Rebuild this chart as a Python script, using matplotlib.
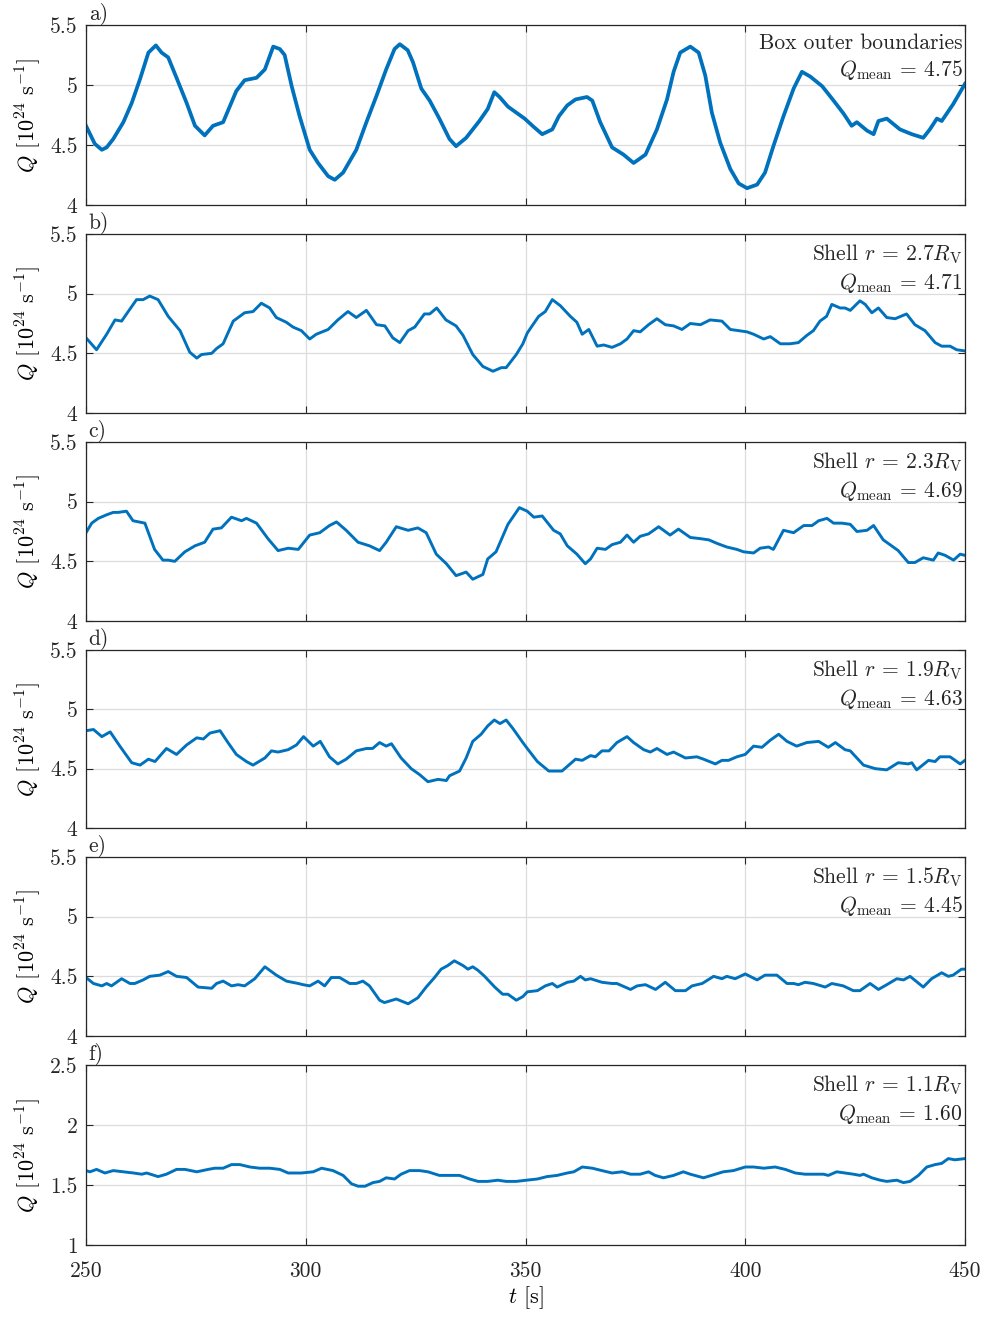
import matplotlib
matplotlib.use("Agg")
import matplotlib.pyplot as plt

plt.rcParams['font.family'] = 'serif'
plt.rcParams['font.serif'] = ['cmr10', 'DejaVu Serif']
plt.rcParams['mathtext.fontset'] = 'cm'
plt.rcParams['axes.formatter.use_mathtext'] = True

# ---------------- data ----------------
a_t = [250.0, 252.0, 253.6, 254.7, 256.2, 258.5, 260.4, 262.3, 264.2, 265.9, 267.2, 268.7, 270.6, 272.9, 274.8, 277.0, 278.9, 281.2, 284.2, 286.1, 288.8, 290.7, 292.6, 294.1, 295.2, 296.8, 298.6, 300.9, 302.8, 305.1, 306.6, 308.5, 311.5, 313.8, 316.1, 318.3, 320.2, 321.4, 323.2, 324.4, 326.3, 328.2, 330.4, 332.7, 334.2, 336.5, 339.5, 341.4, 342.9, 344.1, 346.0, 347.9, 349.8, 351.9, 353.8, 356.1, 357.6, 359.5, 361.4, 364.0, 365.2, 367.0, 369.7, 372.3, 374.6, 377.3, 379.9, 382.2, 383.7, 385.2, 387.5, 389.4, 390.9, 392.4, 394.3, 396.6, 398.5, 400.4, 402.7, 404.5, 406.4, 408.7, 411.0, 412.9, 414.8, 417.5, 420.1, 422.4, 424.2, 425.4, 427.7, 429.2, 430.3, 432.2, 435.2, 437.9, 440.5, 442.0, 443.6, 444.7, 447.3, 450.0]
a_q = [4.66, 4.51, 4.46, 4.48, 4.55, 4.69, 4.85, 5.05, 5.27, 5.33, 5.27, 5.23, 5.06, 4.85, 4.66, 4.58, 4.66, 4.69, 4.95, 5.04, 5.06, 5.13, 5.32, 5.30, 5.25, 4.99, 4.74, 4.46, 4.35, 4.24, 4.21, 4.27, 4.46, 4.69, 4.91, 5.13, 5.30, 5.34, 5.29, 5.19, 4.97, 4.87, 4.72, 4.55, 4.49, 4.56, 4.70, 4.80, 4.94, 4.90, 4.82, 4.77, 4.72, 4.65, 4.59, 4.63, 4.74, 4.83, 4.88, 4.90, 4.87, 4.69, 4.48, 4.42, 4.35, 4.42, 4.63, 4.88, 5.11, 5.27, 5.32, 5.27, 5.08, 4.77, 4.52, 4.30, 4.18, 4.14, 4.17, 4.27, 4.49, 4.74, 4.97, 5.11, 5.07, 4.99, 4.87, 4.76, 4.66, 4.69, 4.62, 4.59, 4.70, 4.72, 4.63, 4.59, 4.56, 4.63, 4.72, 4.70, 4.84, 5.01]

b_t = [250.0, 252.4, 254.7, 256.6, 258.1, 259.6, 261.5, 263.0, 264.5, 266.4, 268.7, 271.4, 273.6, 275.2, 276.3, 278.6, 279.7, 281.2, 283.5, 286.1, 288.0, 289.9, 291.8, 293.3, 295.6, 297.1, 299.0, 300.9, 302.4, 305.1, 307.3, 309.6, 311.5, 313.8, 316.1, 318.0, 319.8, 321.4, 323.3, 324.8, 327.0, 328.2, 329.8, 331.9, 334.2, 335.8, 338.0, 340.3, 342.6, 344.5, 345.6, 347.9, 349.4, 350.4, 351.5, 353.0, 354.5, 356.1, 357.9, 360.2, 361.7, 362.9, 364.4, 366.3, 367.8, 369.7, 371.6, 373.1, 374.6, 376.1, 378.0, 379.9, 381.8, 383.7, 385.6, 387.5, 389.8, 392.0, 394.7, 396.6, 398.5, 400.4, 401.9, 404.2, 405.7, 408.0, 410.2, 412.1, 414.0, 415.5, 417.0, 418.5, 419.7, 421.6, 422.7, 423.9, 426.1, 427.3, 428.8, 430.3, 432.2, 434.1, 436.7, 438.6, 440.9, 443.2, 444.7, 446.6, 448.1, 450.0]
b_q = [4.63, 4.53, 4.66, 4.78, 4.77, 4.85, 4.95, 4.95, 4.98, 4.95, 4.81, 4.69, 4.51, 4.46, 4.49, 4.50, 4.54, 4.58, 4.77, 4.84, 4.85, 4.92, 4.88, 4.80, 4.76, 4.72, 4.69, 4.62, 4.66, 4.70, 4.78, 4.85, 4.80, 4.86, 4.74, 4.73, 4.63, 4.59, 4.69, 4.72, 4.83, 4.83, 4.88, 4.78, 4.73, 4.65, 4.49, 4.39, 4.35, 4.38, 4.38, 4.49, 4.58, 4.67, 4.73, 4.81, 4.85, 4.95, 4.90, 4.81, 4.76, 4.66, 4.70, 4.56, 4.57, 4.55, 4.58, 4.62, 4.69, 4.68, 4.74, 4.79, 4.74, 4.73, 4.70, 4.75, 4.74, 4.78, 4.77, 4.70, 4.69, 4.68, 4.66, 4.62, 4.64, 4.58, 4.58, 4.59, 4.65, 4.69, 4.77, 4.81, 4.91, 4.88, 4.88, 4.86, 4.94, 4.91, 4.84, 4.88, 4.80, 4.79, 4.83, 4.74, 4.69, 4.59, 4.56, 4.56, 4.53, 4.52]

c_t = [250.0, 251.3, 252.8, 254.7, 256.2, 257.3, 259.2, 260.7, 263.4, 265.6, 267.5, 268.7, 270.2, 272.5, 274.8, 277.0, 278.9, 280.8, 283.1, 285.4, 286.5, 288.8, 291.4, 293.7, 296.0, 298.3, 300.9, 303.2, 305.4, 307.0, 309.2, 311.9, 314.5, 316.8, 318.3, 320.6, 323.3, 325.5, 327.4, 329.7, 332.0, 334.2, 336.5, 338.0, 340.3, 341.4, 343.3, 346.0, 348.6, 350.4, 351.9, 353.8, 356.4, 357.9, 359.5, 361.7, 363.6, 364.8, 366.3, 368.2, 369.7, 371.6, 373.1, 374.6, 376.1, 378.0, 380.3, 382.9, 384.8, 387.5, 389.8, 391.7, 393.6, 395.8, 398.1, 399.6, 401.9, 403.4, 405.3, 406.4, 408.7, 411.0, 413.3, 415.2, 416.7, 418.6, 420.1, 422.0, 423.9, 425.4, 427.7, 429.2, 431.4, 434.8, 437.1, 438.6, 440.5, 442.8, 443.9, 445.5, 447.4, 448.9, 450.0]
c_q = [4.74, 4.82, 4.86, 4.89, 4.91, 4.91, 4.92, 4.84, 4.82, 4.60, 4.51, 4.51, 4.50, 4.58, 4.63, 4.66, 4.77, 4.78, 4.87, 4.84, 4.86, 4.82, 4.69, 4.59, 4.61, 4.60, 4.72, 4.74, 4.80, 4.83, 4.76, 4.66, 4.63, 4.59, 4.66, 4.79, 4.76, 4.78, 4.74, 4.56, 4.48, 4.38, 4.41, 4.35, 4.39, 4.52, 4.58, 4.81, 4.95, 4.92, 4.87, 4.88, 4.76, 4.73, 4.63, 4.56, 4.48, 4.52, 4.61, 4.60, 4.64, 4.66, 4.72, 4.66, 4.71, 4.73, 4.79, 4.72, 4.77, 4.70, 4.69, 4.68, 4.65, 4.62, 4.60, 4.58, 4.57, 4.61, 4.62, 4.60, 4.76, 4.74, 4.80, 4.80, 4.84, 4.86, 4.82, 4.82, 4.81, 4.75, 4.76, 4.80, 4.68, 4.59, 4.49, 4.49, 4.53, 4.51, 4.57, 4.55, 4.51, 4.56, 4.55]

d_t = [250.0, 251.7, 253.6, 255.5, 257.7, 260.4, 262.3, 264.2, 265.7, 268.3, 270.6, 272.9, 275.2, 276.7, 278.2, 280.5, 282.3, 284.2, 286.5, 288.0, 290.7, 292.2, 293.7, 296.0, 297.9, 299.5, 301.7, 303.3, 305.4, 307.3, 309.2, 311.5, 313.8, 315.2, 316.8, 318.3, 319.5, 321.7, 324.0, 325.9, 327.8, 330.1, 332.0, 332.7, 335.0, 336.5, 338.0, 339.9, 341.4, 342.9, 344.2, 345.6, 347.1, 349.4, 350.4, 352.7, 355.3, 358.3, 361.4, 362.9, 364.8, 365.9, 367.4, 369.0, 370.8, 373.1, 374.6, 376.9, 378.4, 379.9, 382.2, 383.7, 386.4, 389.0, 390.5, 393.2, 394.7, 396.2, 398.1, 400.0, 401.9, 403.8, 405.7, 407.6, 409.5, 411.7, 414.0, 416.7, 418.9, 420.5, 422.7, 423.9, 426.9, 429.6, 432.2, 434.8, 437.1, 437.9, 439.0, 441.7, 443.2, 444.3, 446.6, 448.9, 450.0]
d_q = [4.82, 4.83, 4.77, 4.81, 4.69, 4.55, 4.53, 4.58, 4.56, 4.67, 4.62, 4.70, 4.76, 4.75, 4.80, 4.82, 4.72, 4.62, 4.56, 4.53, 4.59, 4.65, 4.64, 4.66, 4.70, 4.77, 4.69, 4.73, 4.60, 4.54, 4.58, 4.65, 4.67, 4.67, 4.72, 4.69, 4.71, 4.59, 4.50, 4.45, 4.39, 4.41, 4.40, 4.44, 4.48, 4.59, 4.73, 4.79, 4.86, 4.91, 4.88, 4.91, 4.84, 4.72, 4.67, 4.56, 4.48, 4.48, 4.58, 4.57, 4.61, 4.60, 4.65, 4.65, 4.72, 4.77, 4.72, 4.66, 4.64, 4.67, 4.62, 4.64, 4.59, 4.60, 4.58, 4.54, 4.57, 4.57, 4.60, 4.62, 4.69, 4.68, 4.74, 4.79, 4.73, 4.69, 4.72, 4.73, 4.68, 4.72, 4.66, 4.65, 4.53, 4.50, 4.49, 4.55, 4.54, 4.55, 4.49, 4.57, 4.56, 4.60, 4.60, 4.54, 4.57]

e_t = [250.0, 251.7, 253.6, 254.7, 255.8, 258.1, 260.0, 261.1, 263.0, 264.5, 266.8, 268.7, 270.6, 272.9, 275.5, 278.6, 279.7, 281.2, 283.1, 284.6, 286.1, 288.4, 290.7, 293.3, 295.6, 298.3, 299.4, 300.9, 302.8, 304.3, 305.8, 307.7, 310.0, 311.5, 313.0, 314.5, 316.8, 317.9, 320.6, 323.3, 325.5, 327.4, 329.3, 330.8, 332.3, 333.8, 335.8, 336.9, 338.0, 339.2, 340.7, 343.0, 344.8, 346.0, 347.9, 349.4, 350.4, 352.7, 354.5, 356.1, 357.2, 359.5, 361.0, 362.5, 363.6, 364.8, 367.4, 369.7, 370.8, 373.9, 375.4, 377.3, 379.6, 381.8, 384.1, 386.4, 387.9, 390.2, 392.8, 394.7, 395.8, 397.7, 400.0, 402.7, 404.5, 407.2, 409.5, 411.0, 412.1, 413.6, 415.5, 418.2, 419.7, 422.3, 424.6, 426.1, 428.4, 430.3, 432.2, 434.5, 436.0, 437.5, 440.5, 442.4, 444.7, 446.2, 447.3, 449.2, 450.0]
e_q = [4.49, 4.44, 4.42, 4.44, 4.42, 4.48, 4.44, 4.44, 4.47, 4.50, 4.51, 4.54, 4.50, 4.49, 4.41, 4.40, 4.44, 4.46, 4.42, 4.43, 4.42, 4.48, 4.58, 4.51, 4.46, 4.44, 4.43, 4.42, 4.46, 4.42, 4.49, 4.49, 4.44, 4.44, 4.46, 4.42, 4.30, 4.28, 4.31, 4.27, 4.32, 4.41, 4.49, 4.56, 4.59, 4.63, 4.59, 4.56, 4.58, 4.55, 4.50, 4.41, 4.35, 4.35, 4.30, 4.33, 4.37, 4.38, 4.42, 4.44, 4.41, 4.45, 4.46, 4.50, 4.47, 4.48, 4.45, 4.44, 4.44, 4.39, 4.42, 4.43, 4.39, 4.45, 4.38, 4.38, 4.42, 4.44, 4.50, 4.48, 4.50, 4.48, 4.52, 4.47, 4.51, 4.51, 4.44, 4.44, 4.43, 4.45, 4.44, 4.41, 4.44, 4.42, 4.38, 4.38, 4.44, 4.39, 4.43, 4.48, 4.47, 4.50, 4.41, 4.48, 4.53, 4.50, 4.51, 4.56, 4.56]

f_t = [250.0, 250.9, 252.4, 254.3, 256.2, 258.5, 260.8, 262.7, 263.8, 266.4, 268.3, 270.6, 272.5, 275.2, 277.8, 279.3, 281.2, 283.1, 285.0, 287.3, 289.5, 291.8, 294.1, 296.0, 299.0, 301.7, 303.6, 306.2, 308.5, 310.4, 311.9, 313.5, 315.3, 316.8, 318.3, 320.2, 321.7, 323.6, 325.9, 327.8, 330.4, 332.7, 335.0, 337.3, 339.2, 341.4, 343.7, 345.6, 347.9, 350.2, 352.7, 354.9, 357.2, 359.5, 361.0, 362.9, 365.2, 367.4, 369.7, 372.0, 373.9, 376.1, 378.0, 379.5, 381.4, 383.7, 385.9, 387.5, 390.5, 393.2, 395.0, 397.3, 400.0, 401.9, 404.2, 406.8, 409.1, 411.4, 413.6, 415.9, 417.8, 418.9, 420.8, 422.7, 424.6, 426.1, 426.9, 428.8, 430.7, 432.2, 434.5, 436.0, 437.5, 439.4, 441.3, 443.2, 444.7, 446.2, 447.7, 450.0]
f_q = [1.62, 1.61, 1.63, 1.60, 1.62, 1.61, 1.60, 1.59, 1.60, 1.57, 1.59, 1.63, 1.63, 1.61, 1.63, 1.64, 1.64, 1.67, 1.67, 1.65, 1.64, 1.64, 1.63, 1.60, 1.60, 1.61, 1.64, 1.62, 1.58, 1.51, 1.49, 1.49, 1.52, 1.53, 1.56, 1.55, 1.59, 1.62, 1.62, 1.61, 1.58, 1.58, 1.58, 1.55, 1.53, 1.53, 1.54, 1.53, 1.53, 1.54, 1.55, 1.57, 1.58, 1.60, 1.61, 1.65, 1.64, 1.62, 1.60, 1.61, 1.59, 1.59, 1.61, 1.58, 1.56, 1.58, 1.61, 1.59, 1.56, 1.59, 1.61, 1.62, 1.65, 1.65, 1.64, 1.65, 1.63, 1.60, 1.59, 1.59, 1.59, 1.58, 1.61, 1.60, 1.59, 1.58, 1.59, 1.56, 1.54, 1.53, 1.54, 1.52, 1.53, 1.58, 1.65, 1.67, 1.68, 1.72, 1.71, 1.72]

panel_letters = ['a)', 'b)', 'c)', 'd)', 'e)', 'f)']
panel_titles = ['Box outer boundaries', r'Shell $r$ = 2.7$R_{\mathrm{V}}$', r'Shell $r$ = 2.3$R_{\mathrm{V}}$',
                r'Shell $r$ = 1.9$R_{\mathrm{V}}$', r'Shell $r$ = 1.5$R_{\mathrm{V}}$', r'Shell $r$ = 1.1$R_{\mathrm{V}}$']
q_means = ['4.75', '4.71', '4.69', '4.63', '4.45', '1.60']
series = [(a_t, a_q), (b_t, b_q), (c_t, c_q), (d_t, d_q), (e_t, e_q), (f_t, f_q)]
yticks_main = [4, 4.5, 5, 5.5]
yticklabels_main = ['4', '4.5', '5', '5.5']
yticks_f = [1, 1.5, 2, 2.5]
yticklabels_f = ['1', '1.5', '2', '2.5']
xticks = [250, 300, 350, 400, 450]

# ---------------- layout ----------------
W, H = 986, 1318
fig = plt.figure(figsize=(W / 100, H / 100), dpi=100)
panel_px = [(25, 205), (234, 413), (442, 621), (650, 828), (857, 1036), (1065, 1245)]
left_px, right_px = 86, 965
color = '#0072BD'
fs = 15.5

for i, ((top, bot), (t, q)) in enumerate(zip(panel_px, series)):
    ax = fig.add_axes([left_px / W, 1 - bot / H, (right_px - left_px) / W, (bot - top) / H])
    ax.plot(t, q, color=color, lw=2.7 if i == 0 else 2.1, solid_joinstyle='round')
    ax.set_xlim(250, 450)
    if i < 5:
        ax.set_ylim(4, 5.5)
        ax.set_yticks(yticks_main)
        ax.set_yticklabels(yticklabels_main)
    else:
        ax.set_ylim(1, 2.5)
        ax.set_yticks(yticks_f)
        ax.set_yticklabels(yticklabels_f)
    ax.set_xticks(xticks)
    if i == 5:
        ax.set_xticklabels([str(v) for v in xticks])
        ax.set_xlabel(r'$t$ [s]', fontsize=fs + 0.5, labelpad=2)
    else:
        ax.set_xticklabels([])
    ax.grid(True, color='#dcdcdc', lw=0.9)
    ax.set_axisbelow(True)
    ax.tick_params(axis='both', direction='in', length=5, width=0.8, top=True, right=True,
                   labelsize=fs, colors='#262626')
    ax.tick_params(axis='x', pad=12)
    ax.tick_params(axis='y', pad=6)
    for s in ax.spines.values():
        s.set_color('#262626')
        s.set_linewidth(0.9)
    ax.set_ylabel(r'$Q$ [$10^{24}$ s$^{-1}$]', fontsize=fs + 0.5, labelpad=5)
    ax.text(0.003, 1.0, panel_letters[i], transform=ax.transAxes, fontsize=fs,
            ha='left', va='bottom', color='#262626')
    ax.text(0.997, 0.955, panel_titles[i] + '\n' + r'$Q_{\mathrm{mean}}$ = ' + q_means[i],
            transform=ax.transAxes, fontsize=fs, ha='right', va='top',
            linespacing=1.3, color='#262626')

fig.savefig('out.png', dpi=100)
